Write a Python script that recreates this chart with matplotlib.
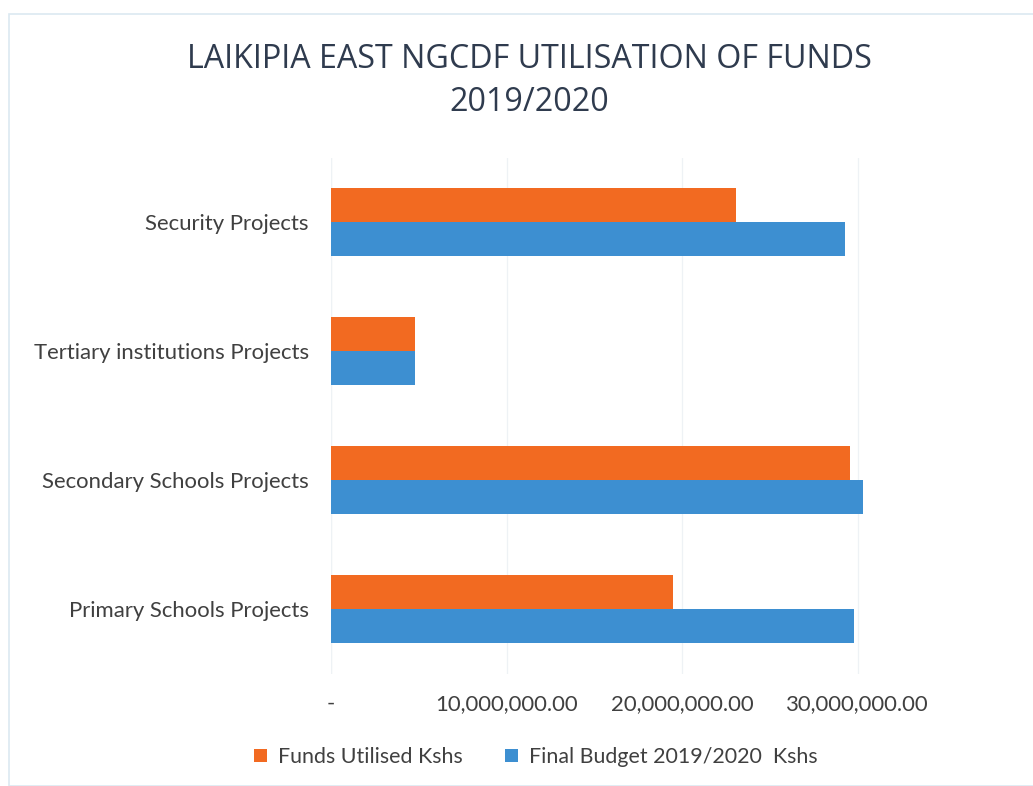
import matplotlib
matplotlib.use("Agg")
import matplotlib.pyplot as plt
from matplotlib.patches import Patch, Rectangle
from matplotlib.ticker import FixedLocator, FuncFormatter

categories = ["Primary Schools Projects", "Secondary Schools Projects",
              "Tertiary institutions Projects", "Security Projects"]
funds_utilised = [19.5e6, 29.6e6, 4.8e6, 23.1e6]
final_budget = [29.8e6, 30.3e6, 4.8e6, 29.3e6]
series_names = ["Funds Utilised Kshs", "Final Budget 2019/2020  Kshs"]
title = "LAIKIPIA EAST NGCDF UTILISATION OF FUNDS\n2019/2020"
xticks = [0, 10e6, 20e6, 30e6]

ORANGE = "#F26A21"
BLUE = "#3D8FD1"
TEXT = "#404040"

fig = plt.figure(figsize=(10.33, 7.86), dpi=100)
fig.patch.set_facecolor("white")
fig.patches.append(Rectangle((9/1033, 0), 1.0, 1 - 14/786, transform=fig.transFigure,
                             fill=False, edgecolor="#dce9f1", linewidth=1.2, zorder=0))

ax = fig.add_axes([331/1033, 1 - 673.5/786, 1 - 331/1033, (673.5 - 157.5)/786])
ypos = list(range(len(categories)))
h = 0.265
ax.barh([y + h/2 for y in ypos], funds_utilised, height=h, color=ORANGE, zorder=3)
ax.barh([y - h/2 for y in ypos], final_budget, height=h, color=BLUE, zorder=3)

ax.set_xlim(0, 40e6)
ax.set_ylim(-0.5, len(categories) - 0.5)
ax.xaxis.set_major_locator(FixedLocator(xticks))
ax.xaxis.set_major_formatter(FuncFormatter(lambda v, p: "-" if v == 0 else f"{v:,.2f}"))
ax.set_yticks(ypos)
ax.set_yticklabels(categories)
for s in ax.spines.values():
    s.set_visible(False)
ax.tick_params(axis="both", length=0, labelsize=15.9, colors=TEXT)
ax.tick_params(axis="x", pad=14.5)
ax.tick_params(axis="y", pad=16)
for lab in ax.get_xticklabels() + ax.get_yticklabels():
    lab.set_family("Lato")
ax.grid(axis="x", color="#eef2f5", linewidth=0.9, zorder=0)
ax.axvline(0, color="#eef2f5", linewidth=0.9, zorder=1)

fig.text(529/1033, 1 - 81/786, title, ha="center", va="center", fontsize=23.2,
         family="Open Sans", color="#2f3b4e", linespacing=1.4)

handles = [Patch(facecolor=ORANGE), Patch(facecolor=BLUE)]
leg = fig.legend(handles, series_names, loc="center", bbox_to_anchor=(536/1033, 1 - 757/786),
                 ncol=2, frameon=False, handlelength=0.6, handleheight=0.6,
                 handletextpad=0.5, columnspacing=2.0,
                 prop={"family": "Lato", "size": 15.4})
for t in leg.get_texts():
    t.set_color(TEXT)

fig.savefig("out.png", dpi=100)
